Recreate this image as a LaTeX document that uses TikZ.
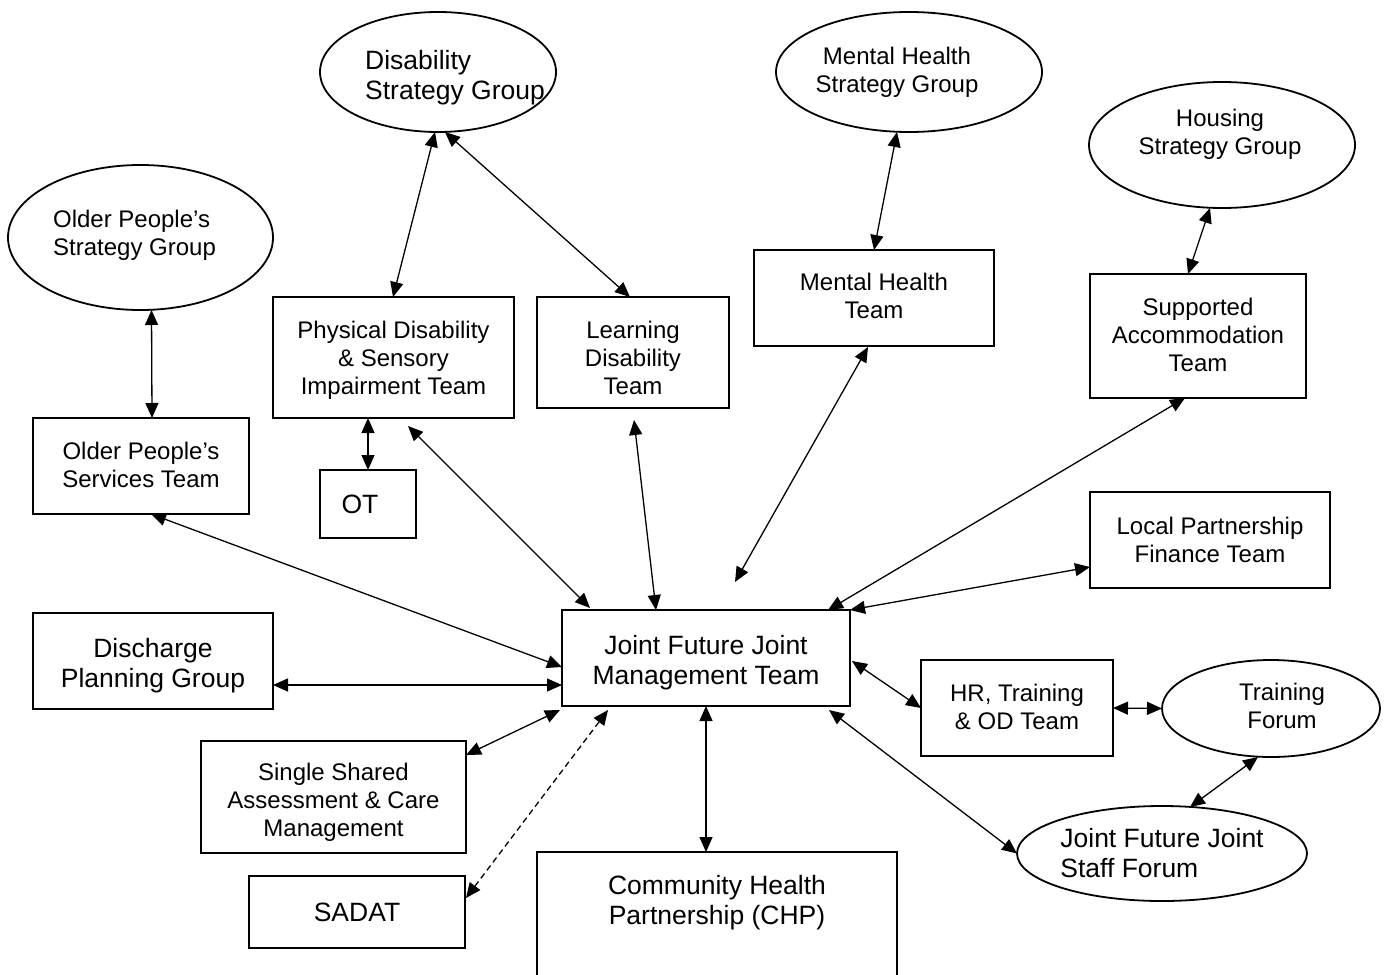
\documentclass[tikz,border=0pt]{standalone}
\usepackage{fontspec}
\setmainfont{Liberation Sans}
\usetikzlibrary{arrows.meta,shapes.geometric,calc}
\begin{document}
\begin{tikzpicture}[x=0.5pt,y=-0.5pt,
  every node/.style={inner sep=0pt, outer sep=0pt},
  fn/.style={font=\fontsize{12}{14}\selectfont},
  fb/.style={font=\fontsize{13.25}{15}\selectfont},
  box/.style 2 args={draw, line width=0.9pt, rectangle, minimum width=#1*0.5pt, minimum height=#2*0.5pt, align=center},
  oval/.style 2 args={draw, line width=0.9pt, ellipse, minimum width=#1*0.5pt, minimum height=#2*0.5pt, align=center},
  arr/.style={line width=0.65pt, {Triangle[length=7.5pt,width=6.5pt]}-{Triangle[length=7.5pt,width=6.5pt]}},
  dsh/.style={arr, dash pattern=on 3pt off 2pt}
]
\useasboundingbox (0,0) rectangle (1385,974);
\clip (0,0) rectangle (1385,974);

% ellipses
\node[oval={265}{145}] (opsg) at (140.5,237.5) {};
\node[fn, align=left] (opsgt) at (134.5,235) {Older People’s\\Strategy Group};
\node[oval={236}{120}] (dsg) at (438,72) {};
\node[fb, align=left] (dsgt) at (455,78) {Disability\\Strategy Group};
\node[oval={266}{120}] (mhsg) at (909,72) {};
\node[fn, align=center] (mhsgt) at (897,72) {Mental Health\\Strategy Group};
\node[oval={266}{126}] (hsg) at (1222,145) {};
\node[fn, align=center] (hsgt) at (1220,134) {Housing\\Strategy Group};
\node[oval={218}{97}] (tf) at (1271,708.5) {};
\node[fn, align=center] (tft) at (1282,706) {Training\\Forum};
\node[oval={290}{95}, fb, align=left] (jfjsf) at (1162,853.5) {Joint Future Joint\\Staff Forum};

% boxes
\node[box={241}{121}, label={[fn,align=center,yshift=-1.5pt]center:{Physical Disability\\\& Sensory\\Impairment Team}}] (pd) at (393.5,357.5) {};
\node[box={192}{111}, label={[fn,align=center,yshift=-2.5pt]center:{Learning\\Disability\\Team}}] (ld) at (633,352.5) {};
\node[box={240}{96}, label={[fn,align=center,yshift=1pt]center:{Mental Health\\Team}}] (mht) at (874,298) {};
\node[box={216}{124}, label={[fn,align=center,yshift=0.75pt]center:{Supported\\Accommodation\\Team}}] (sat) at (1198,336) {};
\node[box={216}{96}, label={[fn,align=center,yshift=0.75pt]center:{Older People’s\\Services Team}}] (opst) at (141,466) {};
\node[box={96}{68}, fb] (ot) at (368,504) {OT\hspace*{8pt}};
\node[box={240}{96}, fn] (lpft) at (1210,540) {Local Partnership\\Finance Team};
\node[box={288}{96}, label={[fb,align=center,yshift=-2.5pt]center:{Joint Future Joint\\Management Team}}] (jmt) at (706,658) {};
\node[box={240}{96}, label={[fb,align=center,yshift=-2.5pt]center:{Discharge\\Planning Group}}] (dpg) at (153,661) {};
\node[box={192}{96}, label={[fn,align=center,yshift=0.5pt]center:{HR, Training\\\& OD Team}}] (hr) at (1017,708) {};
\node[box={265}{112}, label={[fn,align=center,yshift=-2.5pt]center:{Single Shared\\Assessment \& Care\\Management}}] (ssa) at (333.5,797) {};
\node[box={216}{72}, fb] (sadat) at (357,912) {SADAT};
\node[box={360}{260}, anchor=north] (chp) at (717,852) {};
\node[fb, align=center] (chpt) at (717,903) {Community Health\\Partnership (CHP)};

\coordinate (mhfree) at (735,582);

% connectors
\draw[arr] ($(opst.north)+(11,0)$) -- ($(opsg.south)+(11,0)$);
\draw[arr] ($(pd.north)+(-0.5,0)$) -- ($(dsg.south)+(-3,0)$);
\draw[arr] ($(ld.north)+(-3,0)$) -- ($(dsg.south)+(7,0)$);
\draw[arr] (ot.north) -- (ot.north |- pd.south);
\draw[arr] ($(pd.south)+(14.5,8)$) -- ($(jmt.north)+(-116,-2)$);
\draw[arr] ($(ld.south)+(1,12)$) -- ($(jmt.north)+(-50,0)$);
\draw[arr] ($(opst.south)+(10,0)$) -- ($(jmt.west)+(0,9)$);
\draw[arr] ($(dpg.east)+(0,24)$) -- ($(jmt.west)+(0,27)$);
\draw[arr] ($(ssa.east)+(0,-42)$) -- ($(jmt.south west)+(-2,4)$);
\draw[dsh] ($(sadat.east)+(1,-14)$) -- ($(jmt.south west)+(46,4)$);
\draw[arr] (jmt.south) -- (jmt.south |- chp.north);
\draw[arr] ($(mht.south)+(-6,1)$) -- (mhfree);
\draw[arr] ($(sat.south)+(-13,0)$) -- ($(jmt.north east)+(-22,0)$);
\draw[arr] ($(lpft.west)+(0,27)$) -- (jmt.north east);
\draw[arr] ($(jmt.east)+(2,3)$) -- (hr.west);
\draw[arr] ($(jmt.south east)+(-21,4)$) -- (jfjsf.west);
\draw[arr] (hr.east) -- (tf.west);
\draw[arr] ($(tf.south)+(-13,0)$) -- ($(jfjsf.north)+(28,1)$);
\draw[arr] ($(mhsg.south)+(-12,0)$) -- (mht.north);
\draw[arr] ($(hsg.south)+(-12,0)$) -- ($(sat.north)+(-10,0)$);
\end{tikzpicture}
\end{document}
